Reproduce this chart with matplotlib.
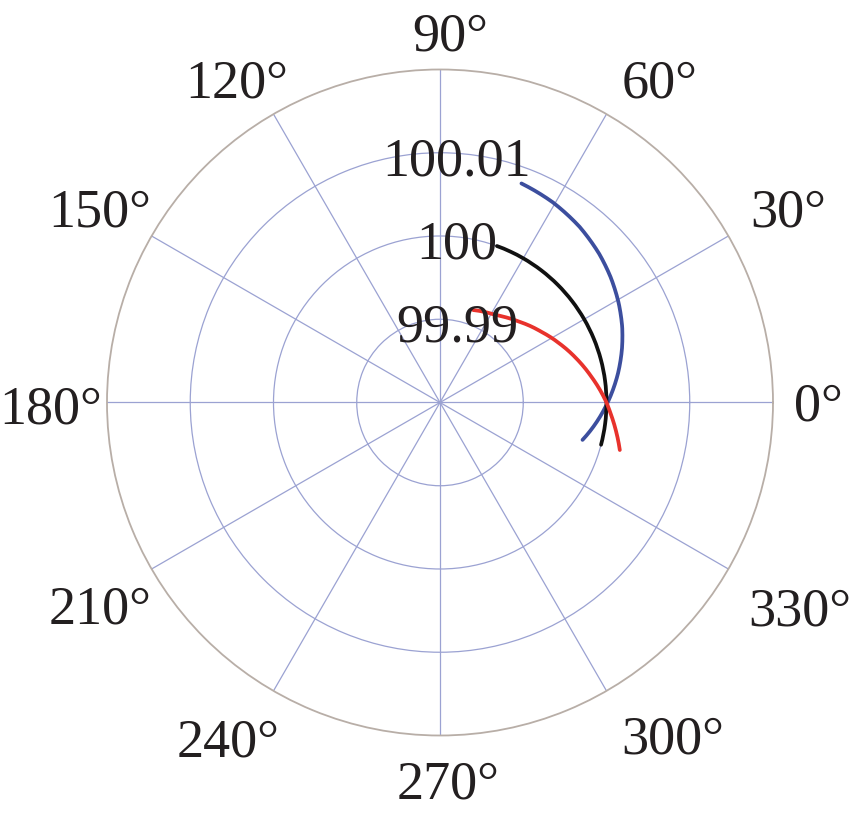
import numpy as np
import matplotlib
matplotlib.use("Agg")
import matplotlib.pyplot as plt
from matplotlib.transforms import ScaledTranslation

# ---- data ----
theta_blue_deg = [-14.7, -7.6, 0.0, 9.25, 16.5, 22.5, 29.0, 36.2, 43.0, 51.5, 60.6, 69.6]
r_blue = [99.99770, 99.99888, 100.00014, 100.00166, 100.00280, 100.00369, 100.00455,
          100.00542, 100.00616, 100.00695, 100.00760, 100.00807]

theta_black_deg = [-14.7, 0.0, 15.0, 30.0, 45.0, 60.0, 70.0]
r_black = [100.0, 100.0, 100.0, 100.0, 100.0, 100.0, 100.0]

theta_red_deg = [-14.8, -9.9, -3.6, 0.0, 9.76, 17.9, 26.3, 35.0, 46.0, 54.0, 59.0, 70.2]
r_red = [100.00234, 100.00153, 100.00052, 100.00000, 99.99843, 99.99721, 99.99600,
         99.99483, 99.99354, 99.99277, 99.99237, 99.99180]

r_ticks = [99.99, 100.0, 100.01]
r_tick_labels = ["99.99", "100", "100.01"]
r_limits = (99.98, 100.02)
theta_ticks_deg = [0, 30, 60, 90, 120, 150, 180, 210, 240, 270, 300, 330]
theta_tick_labels = [f"{t}°" for t in theta_ticks_deg]

# ---- layout (label placement, pixels from the pole) ----
label_dir_deg = [0, 29.1, 55.9, 88.5, 122.1, 150.2, 180.4, 210.8, 237.7, 271.2, 305, 330.4]
label_dist_px = [378, 399, 391, 371, 382, 392, 389, 396, 397, 378, 406, 414]
axes_px = 666.0
dpi = 100

fig = plt.figure(figsize=(8.63, 8.15), dpi=dpi)
ax = fig.add_axes([0.12398, 0.09755, 0.77173, 0.81718], projection="polar")

text_color = "#231f20"
font = ["Liberation Serif", "DejaVu Serif"]

ax.set_ylim(*r_limits)
ax.set_yticks(r_ticks)
ax.set_yticklabels([])
ax.set_xticks(np.deg2rad(theta_ticks_deg))
ax.set_xticklabels([])
ax.tick_params(length=0)
ax.grid(True, color="#9ba2d2", linewidth=0.9)
ax.spines["polar"].set_color("#b8aea7")
ax.spines["polar"].set_linewidth(1.3)

for th, rr, col in [(theta_blue_deg, r_blue, "#3c4e9e"),
                    (theta_black_deg, r_black, "#111111"),
                    (theta_red_deg, r_red, "#e8322c")]:
    line, = ax.plot(np.deg2rad(th), rr, color=col, lw=2.7, solid_capstyle="round")
    line.get_path()._interpolation_steps = 40

# angular labels
base_shift = ScaledTranslation(0, -18.5 / dpi, fig.dpi_scale_trans)
for lab, ang, dist in zip(theta_tick_labels, label_dir_deg, label_dist_px):
    a = np.deg2rad(ang)
    ax.text(0.5 + dist * np.cos(a) / axes_px, 0.5 + dist * np.sin(a) / axes_px, lab,
            transform=ax.transAxes + base_shift, ha="center", va="baseline",
            fontsize=39, family=font, color=text_color, clip_on=False)

# radial labels
off = ax.transData + ScaledTranslation(17 / dpi, -22.5 / dpi, fig.dpi_scale_trans)
for val, lab in zip(r_ticks, r_tick_labels):
    ax.text(np.pi / 2, val, lab, transform=off, ha="center", va="baseline",
            fontsize=39, family=font, color=text_color, zorder=5)

fig.savefig("out.png", dpi=dpi)
